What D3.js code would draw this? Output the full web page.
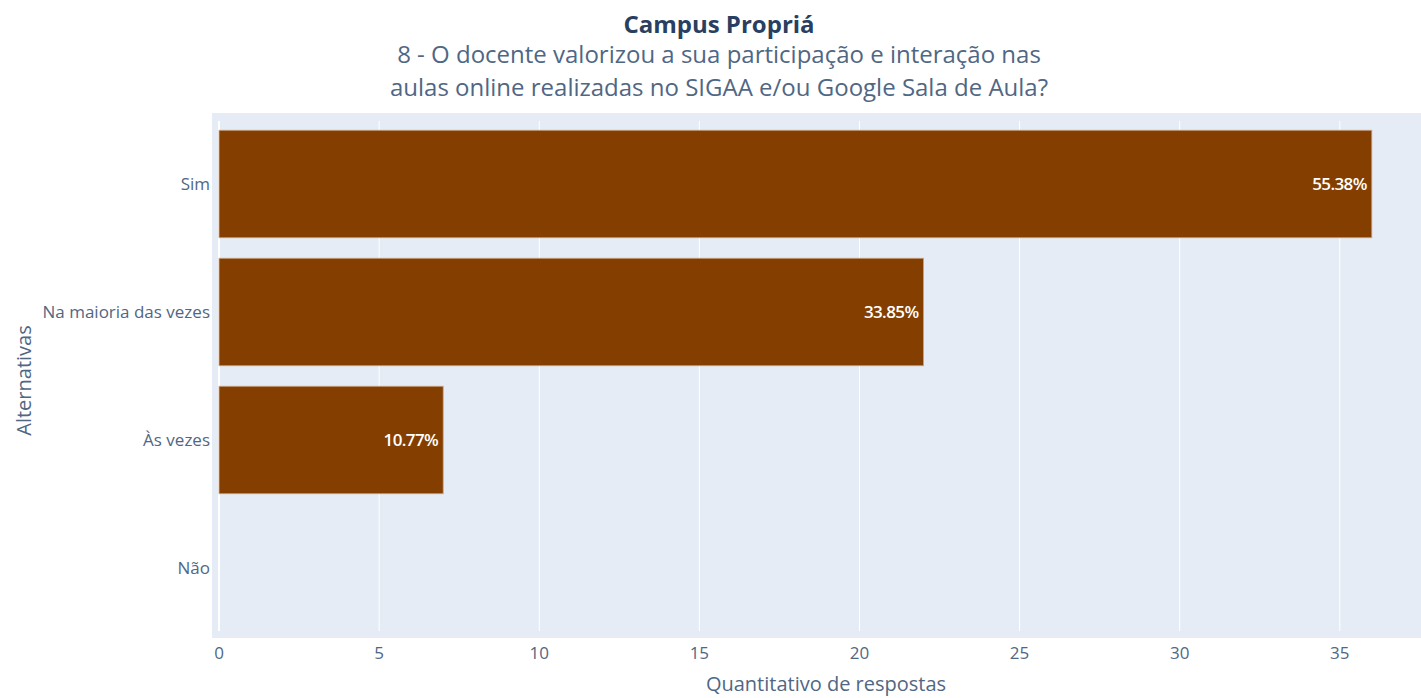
<!DOCTYPE html>
<html>
<head>
<meta charset="utf-8">
<script src="https://cdn.jsdelivr.net/npm/d3@7"></script>
<style>
  body { margin: 0; background: #fff; font-family: "Open Sans", sans-serif; }
  svg { display: block; }
</style>
</head>
<body>
<script>
// chart data
var categories = ["Sim", "Na maioria das vezes", "Às vezes", "Não"];
var counts = [36, 22, 7, 0];
var percentLabels = ["55.38%", "33.85%", "10.77%", ""];
var xTicks = [0, 5, 10, 15, 20, 25, 30, 35];

var svgWidth = 1421;
var svgHeight = 698;

// plot area (right edge runs past the window, as in the reference)
var plot = { left: 212, right: 1440, top: 113, bottom: 638 };
var bandTop = 120, bandBottom = 632;

var svg = d3.select("body")
  .append("svg")
  .attr("width", svgWidth)
  .attr("height", svgHeight);

svg.append("rect")
  .attr("x", plot.left)
  .attr("y", plot.top)
  .attr("width", plot.right - plot.left)
  .attr("height", plot.bottom - plot.top)
  .attr("fill", "#e5ecf6");

var xScale = d3.scaleLinear()
  .domain([-0.22, 38.13])
  .range([plot.left, plot.right]);

var yScale = d3.scaleBand()
  .domain(categories)
  .range([bandTop, bandBottom])
  .paddingInner(0.16)
  .paddingOuter(0.08);

// vertical gridlines
svg.append("g")
  .selectAll("line")
  .data(xTicks)
  .enter()
  .append("line")
  .attr("x1", d => xScale(d))
  .attr("x2", d => xScale(d))
  .attr("y1", bandTop + 1)
  .attr("y2", bandBottom - 1)
  .attr("stroke", "#fff")
  .attr("stroke-width", d => d === 0 ? 2 : 1);

// bars
svg.append("g")
  .selectAll("rect")
  .data(counts)
  .enter()
  .append("rect")
  .attr("x", xScale(0))
  .attr("y", (d, i) => yScale(categories[i]))
  .attr("width", d => xScale(d) - xScale(0))
  .attr("height", yScale.bandwidth())
  .attr("fill", "#843f00")
  .attr("stroke", d => d > 0 ? "#c8a487" : "none")
  .attr("stroke-width", 0.8);

// labels inside the end of each bar
svg.append("g")
  .selectAll("text")
  .data(counts)
  .enter()
  .append("text")
  .attr("x", d => xScale(d) - 5)
  .attr("y", (d, i) => yScale(categories[i]) + yScale.bandwidth() / 2)
  .attr("dy", "0.35em")
  .attr("text-anchor", "end")
  .attr("fill", "#fff")
  .attr("font-size", 17)
  .attr("font-weight", 600)
  .attr("letter-spacing", -0.6)
  .text((d, i) => percentLabels[i]);

// y tick labels
svg.append("g")
  .selectAll("text")
  .data(categories)
  .enter()
  .append("text")
  .attr("x", plot.left - 2)
  .attr("y", d => yScale(d) + yScale.bandwidth() / 2)
  .attr("dy", "0.35em")
  .attr("text-anchor", "end")
  .attr("fill", "#506784")
  .attr("font-size", 17)
  .text(d => d);

// x tick labels
svg.append("g")
  .selectAll("text")
  .data(xTicks)
  .enter()
  .append("text")
  .attr("x", d => xScale(d))
  .attr("y", 659)
  .attr("text-anchor", "middle")
  .attr("fill", "#506784")
  .attr("font-size", 17)
  .text(d => d);

// axis titles
svg.append("text")
  .attr("x", (plot.left + plot.right) / 2)
  .attr("y", 691)
  .attr("text-anchor", "middle")
  .attr("fill", "#506784")
  .attr("font-size", 20)
  .text("Quantitativo de respostas");

svg.append("text")
  .attr("transform", "translate(31," + ((plot.top + plot.bottom) / 2 + 5) + ") rotate(-90)")
  .attr("text-anchor", "middle")
  .attr("fill", "#506784")
  .attr("font-size", 20)
  .text("Alternativas");

// title
svg.append("text")
  .attr("x", 719)
  .attr("y", 33)
  .attr("text-anchor", "middle")
  .attr("fill", "#2a3f5f")
  .attr("font-size", 24)
  .attr("font-weight", "bold")
  .text("Campus Propriá");

var subtitle = ["8 - O docente valorizou a sua participação e interação nas",
  "aulas online realizadas no SIGAA e/ou Google Sala de Aula?"];
svg.append("g")
  .selectAll("text")
  .data(subtitle)
  .enter()
  .append("text")
  .attr("x", 719)
  .attr("y", (d, i) => 63 + i * 33)
  .attr("text-anchor", "middle")
  .attr("fill", "#506784")
  .attr("font-size", 24)
  .text(d => d);
</script>
</body>
</html>
